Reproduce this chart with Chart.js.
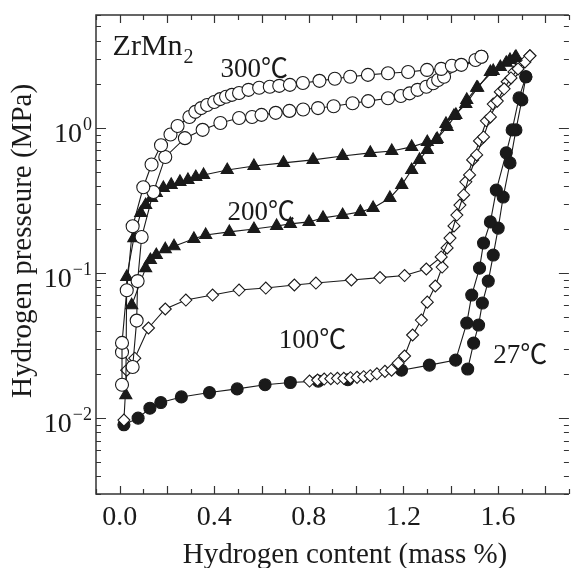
<!DOCTYPE html>
<html lang="en">
<head>
<meta charset="UTF-8">
<title>ZrMn2 PCT curves</title>
<script src="https://cdn.jsdelivr.net/npm/chart.js"></script>
<style>
  html, body { margin: 0; padding: 0; background: #fff; }
</style>
</head>
<body>
<canvas id="pct" width="577" height="568"></canvas>
<script>
// --- DATA (hydrogen content in mass %, pressure in MPa) ---
// 300 C, upper (absorption) branch
const t300AbsX = [0.01, 0.01, 0.03, 0.055, 0.10, 0.135, 0.175, 0.215, 0.245, 0.295, 0.32, 0.345, 0.37, 0.40, 0.425, 0.45, 0.475, 0.505, 0.545, 0.59, 0.635, 0.675, 0.72, 0.775, 0.845, 0.91, 0.975, 1.05, 1.135, 1.22, 1.30, 1.36, 1.405, 1.445, 1.505, 1.53];
const t300AbsY = [0.017, 0.033, 0.076, 0.21, 0.39, 0.56, 0.76, 0.90, 1.03, 1.19, 1.29, 1.37, 1.44, 1.51, 1.58, 1.64, 1.69, 1.74, 1.83, 1.89, 1.92, 1.95, 1.98, 2.04, 2.11, 2.18, 2.25, 2.32, 2.38, 2.43, 2.51, 2.55, 2.68, 2.72, 2.94, 3.09];
// 300 C, lower (desorption) branch
const t300DesX = [0.01, 0.055, 0.072, 0.076, 0.093, 0.143, 0.193, 0.276, 0.351, 0.426, 0.505, 0.56, 0.60, 0.66, 0.718, 0.776, 0.839, 0.905, 0.985, 1.051, 1.135, 1.189, 1.226, 1.26, 1.297, 1.326, 1.347, 1.372, 1.53];
const t300DesY = [0.0285, 0.0225, 0.047, 0.088, 0.177, 0.362, 0.631, 0.85, 0.97, 1.08, 1.17, 1.19, 1.23, 1.27, 1.31, 1.34, 1.37, 1.41, 1.48, 1.53, 1.60, 1.66, 1.73, 1.83, 1.92, 2.03, 2.14, 2.25, 3.09];
// 200 C
const t200AbsX = [0.026, 0.03, 0.06, 0.089, 0.11, 0.135, 0.155, 0.185, 0.218, 0.255, 0.289, 0.322, 0.355, 0.455, 0.568, 0.693, 0.818, 0.943, 1.06, 1.151, 1.235, 1.301, 1.343, 1.38, 1.414, 1.464, 1.514, 1.568, 1.61, 1.651, 1.676];
const t200AbsY = [0.0144, 0.094, 0.174, 0.259, 0.294, 0.329, 0.356, 0.386, 0.405, 0.425, 0.438, 0.459, 0.474, 0.513, 0.547, 0.574, 0.602, 0.641, 0.673, 0.694, 0.74, 0.80, 0.84, 1.066, 1.21, 1.46, 1.89, 2.43, 2.63, 2.94, 3.09];
const t200DesX = [0.051, 0.11, 0.13, 0.155, 0.193, 0.23, 0.314, 0.364, 0.464, 0.568, 0.664, 0.722, 0.801, 0.86, 0.943, 1.018, 1.072, 1.143, 1.193, 1.235, 1.268, 1.301, 1.339, 1.385, 1.422, 1.468, 1.51, 1.58, 1.635, 1.672];
const t200DesY = [0.060, 0.108, 0.123, 0.133, 0.146, 0.153, 0.172, 0.183, 0.192, 0.201, 0.211, 0.218, 0.225, 0.24, 0.251, 0.264, 0.281, 0.329, 0.405, 0.513, 0.602, 0.705, 0.827, 1.016, 1.23, 1.56, 1.89, 2.47, 2.81, 3.04];
// 100 C
const t100AbsX = [0.018, 0.03, 0.064, 0.122, 0.193, 0.28, 0.393, 0.505, 0.618, 0.739, 0.83, 0.98, 1.101, 1.205, 1.297, 1.36, 1.397, 1.426, 1.455, 1.48, 1.51, 1.539, 1.568, 1.597, 1.626, 1.655, 1.685, 1.714, 1.735];
const t100AbsY = [0.0097, 0.0214, 0.0259, 0.0418, 0.0565, 0.0651, 0.0705, 0.0763, 0.0788, 0.0827, 0.0853, 0.0895, 0.093, 0.0961, 0.1066, 0.129, 0.174, 0.251, 0.345, 0.474, 0.651, 0.867, 1.19, 1.53, 1.86, 2.21, 2.55, 2.85, 3.14];
const t100DesX = [0.803, 0.837, 0.865, 0.893, 0.921, 0.948, 0.976, 1.004, 1.032, 1.06, 1.088, 1.122, 1.15, 1.178, 1.205, 1.239, 1.276, 1.301, 1.335, 1.364, 1.385, 1.414, 1.439, 1.464, 1.493, 1.522, 1.551, 1.58, 1.61, 1.639, 1.668, 1.697, 1.735];
const t100DesY = [0.018, 0.0183, 0.0186, 0.0187, 0.0188, 0.0188, 0.019, 0.0191, 0.0193, 0.0196, 0.0202, 0.021, 0.0214, 0.0239, 0.0268, 0.0374, 0.0474, 0.063, 0.0814, 0.11, 0.149, 0.211, 0.294, 0.425, 0.602, 0.813, 1.12, 1.46, 1.77, 2.08, 2.43, 2.76, 3.14];
// 27 C
const t27AbsX = [0.018, 0.078, 0.128, 0.174, 0.261, 0.38, 0.497, 0.615, 0.722, 0.84, 0.965, 1.192, 1.31, 1.421, 1.468, 1.489, 1.522, 1.539, 1.568, 1.593, 1.635, 1.66, 1.689, 1.718];
const t27AbsY = [0.0090, 0.0100, 0.0117, 0.0128, 0.0140, 0.0150, 0.0159, 0.0170, 0.0176, 0.0180, 0.0184, 0.0214, 0.0232, 0.0251, 0.0452, 0.0705, 0.108, 0.161, 0.225, 0.373, 0.673, 0.969, 1.61, 2.25];
const t27DesX = [1.472, 1.497, 1.518, 1.534, 1.559, 1.58, 1.601, 1.622, 1.651, 1.676, 1.701, 1.718];
const t27DesY = [0.0218, 0.0329, 0.0438, 0.0621, 0.088, 0.133, 0.204, 0.334, 0.574, 0.969, 1.56, 2.25];

// axis ticks
const xTickLabels = ['0.0', '0.4', '0.8', '1.2', '1.6'];
const yTickExps = [-2, -1, 0];
const xMin = -0.1, xMax = 1.9, yMin = 0.003, yMax = 6;

const serif = '"Liberation Serif", "Times New Roman", serif';
const cjk = '"Noto Sans CJK SC", "Noto Sans CJK JP", sans-serif';
const ink = '#1a1a1a';

function pts(xs, ys) {
    return xs.map((x, i) => ({ x: x, y: ys[i] }));
}

function series(label, xs, ys, style, radius, fill) {
    return {
        label: label,
        data: pts(xs, ys),
        showLine: true,
        borderColor: ink,
        borderWidth: 1.1,
        tension: 0,
        fill: false,
        pointStyle: style,
        pointRadius: radius,
        pointBackgroundColor: fill,
        pointBorderColor: ink,
        pointBorderWidth: 1.1
    };
}

// temperature labels on the plot, anchored in data units (left x, baseline y)
const curveLabels = [
    { temp: '300', x: 0.427, y: 2.25 },
    { temp: '200', x: 0.456, y: 0.232 },
    { temp: '100', x: 0.673, y: 0.0304 },
    { temp: '27', x: 1.58, y: 0.0239 }
];

const decor = {
    id: 'decor',
    afterDraw(chart) {
        const ctx = chart.ctx;
        const xs = chart.scales.x, ys = chart.scales.y;
        const { left, right, top, bottom } = chart.chartArea;
        ctx.save();

        // frame (right edge falls outside the picture)
        ctx.strokeStyle = '#333';
        ctx.lineWidth = 1.5;
        ctx.beginPath();
        ctx.moveTo(right, top); ctx.lineTo(left, top);
        ctx.lineTo(left, bottom); ctx.lineTo(right, bottom);
        ctx.stroke();

        // tick marks, pointing inward on all four sides
        ctx.lineWidth = 1.2;
        ctx.beginPath();
        for (let i = -1; i <= 19; i++) {
            const px = Math.round(xs.getPixelForValue(i / 10)) + 0.5;
            const len = i % 2 === 0 ? 8 : 5;
            ctx.moveTo(px, bottom); ctx.lineTo(px, bottom - len);
            ctx.moveTo(px, top); ctx.lineTo(px, top + len);
        }
        for (let d = -3; d <= 0; d++) {
            for (let m = 1; m <= 9; m++) {
                const v = m * Math.pow(10, d);
                if (v < yMin || v > yMax) continue;
                const py = Math.round(ys.getPixelForValue(v)) + 0.5;
                const len = m === 1 ? 10 : 5;
                ctx.moveTo(left, py); ctx.lineTo(left + len, py);
                ctx.moveTo(right, py); ctx.lineTo(right - len, py);
            }
        }
        ctx.stroke();

        ctx.fillStyle = ink;

        // x tick labels
        ctx.font = '28px ' + serif;
        ctx.textAlign = 'center';
        ctx.textBaseline = 'alphabetic';
        xTickLabels.forEach(t => {
            ctx.fillText(t, xs.getPixelForValue(parseFloat(t)), 525);
        });

        // y tick labels as 10 with a raised exponent
        yTickExps.forEach(e => {
            const py = ys.getPixelForValue(Math.pow(10, e));
            const ex = e < 0 ? '\u2212' + (-e) : String(e);
            ctx.font = '18px ' + serif;
            const ew = ctx.measureText(ex).width;
            const x0 = 92 - ew;
            ctx.textAlign = 'left';
            ctx.fillText(ex, x0, py + 2);
            ctx.font = '28px ' + serif;
            ctx.textAlign = 'right';
            ctx.fillText('10', x0 - 1, py + 14);
        });

        // axis titles
        ctx.font = '29px ' + serif;
        ctx.textAlign = 'center';
        ctx.fillText('Hydrogen content (mass %)', 345, 563);
        ctx.save();
        ctx.translate(31, 241);
        ctx.rotate(-Math.PI / 2);
        ctx.fillText('Hydrogen presseure (MPa)', 0, 0);
        ctx.restore();

        // compound name with subscript
        ctx.textAlign = 'left';
        ctx.font = '30px ' + serif;
        const zx = xs.getPixelForValue(-0.03), zy = ys.getPixelForValue(3.19);
        ctx.fillText('ZrMn', zx, zy);
        const zw = ctx.measureText('ZrMn').width;
        ctx.font = '20px ' + serif;
        ctx.fillText('2', zx + zw + 1, zy + 8);

        // temperature labels: digits in serif, the degree sign from the CJK font
        curveLabels.forEach(l => {
            const lx = xs.getPixelForValue(l.x), ly = ys.getPixelForValue(l.y);
            ctx.font = '27px ' + serif;
            ctx.fillText(l.temp, lx, ly);
            const w = ctx.measureText(l.temp).width;
            ctx.font = '27px ' + cjk;
            ctx.fillText('\u2103', lx + w, ly + 1);
        });

        ctx.restore();
    }
};

new Chart(document.getElementById('pct').getContext('2d'), {
    type: 'scatter',
    data: {
        datasets: [
            series('300 abs', t300AbsX, t300AbsY, 'circle', 6.5, '#fff'),
            series('300 des', t300DesX, t300DesY, 'circle', 6.5, '#fff'),
            series('200 abs', t200AbsX, t200AbsY, 'triangle', 7, ink),
            series('200 des', t200DesX, t200DesY, 'triangle', 7, ink),
            series('100 abs', t100AbsX, t100AbsY, 'rectRot', 6, '#fff'),
            series('100 des', t100DesX, t100DesY, 'rectRot', 6, '#fff'),
            series('27 abs', t27AbsX, t27AbsY, 'circle', 6, ink),
            series('27 des', t27DesX, t27DesY, 'circle', 6, ink)
        ]
    },
    options: {
        responsive: false,
        animation: false,
        layout: { padding: { top: 15, right: 0, left: 0, bottom: 0 } },
        scales: {
            x: {
                type: 'linear', min: xMin, max: xMax,
                ticks: { display: false },
                grid: { display: false },
                border: { display: false },
                afterFit: s => { s.height = 74; }
            },
            y: {
                type: 'logarithmic', min: yMin, max: yMax,
                ticks: { display: false },
                grid: { display: false },
                border: { display: false },
                afterFit: s => { s.width = 96; }
            }
        },
        plugins: {
            legend: { display: false },
            tooltip: { enabled: false }
        }
    },
    plugins: [decor]
});
</script>
</body>
</html>
